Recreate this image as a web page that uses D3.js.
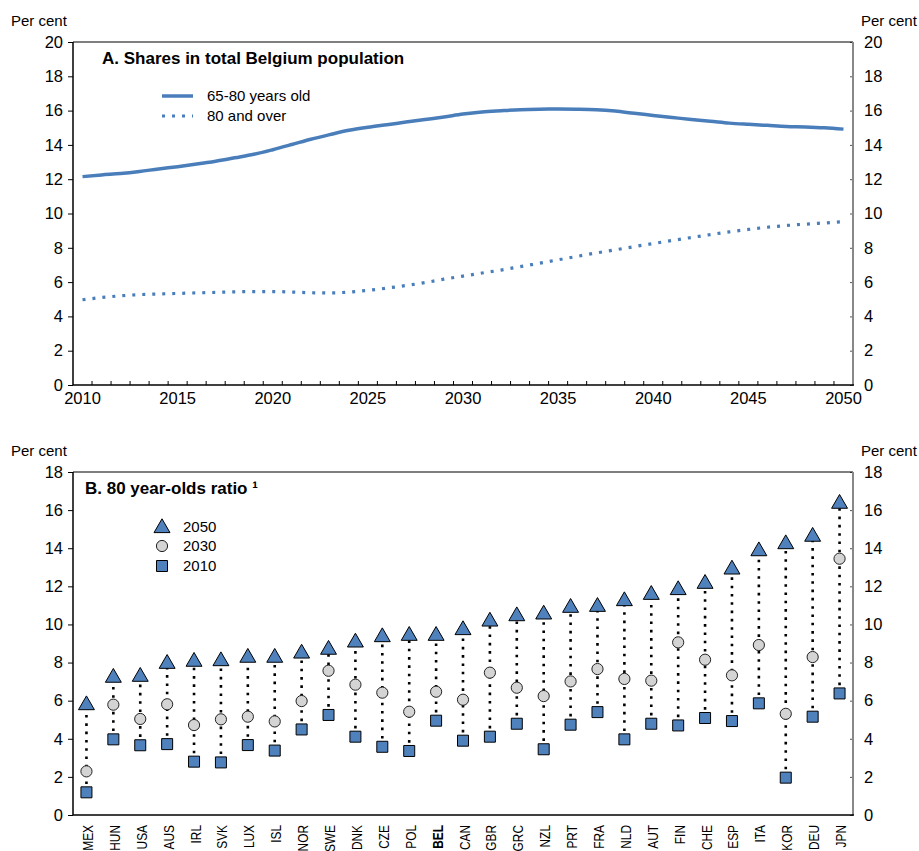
<!DOCTYPE html>
<html><head><meta charset="utf-8">
<script src="https://cdn.jsdelivr.net/npm/d3@7/dist/d3.min.js"></script>
<style>
body{margin:0;background:#fff;}
svg{font-family:"Liberation Sans",Arial,sans-serif;}
</style></head>
<body><svg id="c" width="919" height="851"></svg>
<script>
// ---------- DATA ----------
const years = d3.range(2010, 2051);
const share6580 = [12.15,12.25,12.33,12.45,12.6,12.73,12.88,13.05,13.25,13.45,13.72,14.02,14.33,14.6,14.85,15.03,15.18,15.33,15.48,15.63,15.8,15.92,15.99,16.05,16.08,16.09,16.08,16.05,15.97,15.84,15.72,15.6,15.48,15.38,15.27,15.2,15.14,15.08,15.05,15.0,14.92];
const share80 = [4.97,5.1,5.2,5.27,5.31,5.34,5.37,5.4,5.43,5.45,5.45,5.42,5.38,5.37,5.42,5.52,5.65,5.8,5.97,6.17,6.35,6.53,6.7,6.9,7.1,7.3,7.5,7.7,7.88,8.07,8.25,8.43,8.6,8.77,8.93,9.07,9.2,9.3,9.38,9.45,9.52];
const yearTickLabels = [2010,2015,2020,2025,2030,2035,2040,2045,2050];
const topYTicks = [0,2,4,6,8,10,12,14,16,18,20];

const countries = ["MEX","HUN","USA","AUS","IRL","SVK","LUX","ISL","NOR","SWE","DNK","CZE","POL","BEL","CAN","GBR","GRC","NZL","PRT","FRA","NLD","AUT","FIN","CHE","ESP","ITA","KOR","DEU","JPN"];
const v2010 = [1.19,3.97,3.66,3.72,2.8,2.76,3.67,3.38,4.49,5.25,4.11,3.58,3.36,4.95,3.9,4.11,4.79,3.45,4.74,5.4,3.97,4.79,4.7,5.09,4.93,5.86,1.96,5.16,6.38];
const v2030 = [2.29,5.79,5.04,5.81,4.72,5.02,5.16,4.91,5.98,7.57,6.84,6.42,5.42,6.47,6.05,7.47,6.68,6.24,7.01,7.66,7.14,7.05,9.06,8.15,7.33,8.92,5.31,8.29,13.45];
const v2050 = [5.82,7.26,7.31,7.99,8.1,8.13,8.31,8.31,8.53,8.73,9.11,9.39,9.46,9.46,9.76,10.21,10.49,10.58,10.93,10.98,11.28,11.61,11.86,12.19,12.94,13.9,14.27,14.66,16.39];
const botYTicks = [0,2,4,6,8,10,12,14,16,18];

// ---------- STYLE ----------
const blue = "#4a7ebb", mblue = "#4f81bd", grey = "#d4d4d4";
const L = 73, R = 853;
const svg = d3.select("#c");
const tickFont = "16.5px";

function frame(g, y, top, bottom){
  g.append("line").attr("x1",L).attr("x2",R).attr("y1",top).attr("y2",top).attr("stroke","#000").attr("stroke-width",1.2);
  g.append("line").attr("x1",L).attr("x2",L).attr("y1",top).attr("y2",bottom).attr("stroke","#000").attr("stroke-width",1.5);
  g.append("line").attr("x1",R).attr("x2",R).attr("y1",top).attr("y2",bottom).attr("stroke","#888").attr("stroke-width",2);
  g.append("line").attr("x1",L).attr("x2",R+1).attr("y1",bottom).attr("y2",bottom).attr("stroke","#000").attr("stroke-width",1.5);
}
function yAxes(g, y, ticks){
  const la = g.append("g").attr("transform",`translate(${L},0)`)
    .call(d3.axisLeft(y).tickValues(ticks).tickSize(5).tickPadding(5));
  const ra = g.append("g").attr("transform",`translate(${R},0)`)
    .call(d3.axisRight(y).tickValues(ticks).tickSize(-3).tickPadding(11));
  [la,ra].forEach(a=>{a.select(".domain").remove();
    a.selectAll("text").attr("font-size",tickFont).attr("fill","#000").attr("font-family","Liberation Sans, Arial, sans-serif");
    a.selectAll("line").attr("stroke","#000");});
  ra.selectAll("line").attr("stroke","#555");
}
function perCent(g, yb){
  g.append("text").attr("x",11).attr("y",yb).attr("font-size","15px").text("Per cent");
  g.append("text").attr("x",861).attr("y",yb).attr("font-size","15px").text("Per cent");
}

// ---------- PANEL A ----------
{
  const top = 42, bottom = 385;
  const g = svg.append("g");
  const x = d3.scaleBand().domain(years).range([L,R]);
  const y = d3.scaleLinear().domain([0,20]).range([bottom,top]);
  perCent(g, 26);
  yAxes(g, y, topYTicks);
  g.append("g").selectAll("line").data(years.slice(1)).join("line")
    .attr("x1",d=>x(d)).attr("x2",d=>x(d)).attr("y1",bottom).attr("y2",bottom-4).attr("stroke","#000");
  const xa = g.append("g").attr("transform",`translate(0,${bottom})`)
    .call(d3.axisBottom(x).tickValues(yearTickLabels).tickSize(0).tickPadding(7));
  xa.select(".domain").remove();
  xa.selectAll("text").attr("font-size",tickFont).attr("fill","#000").attr("font-family","Liberation Sans, Arial, sans-serif");
  frame(g, y, top, bottom);
  const cx = d => x(d) + x.bandwidth()/2;
  const line = d3.line().x((d,i)=>cx(years[i])).y(d=>y(d)).curve(d3.curveMonotoneX);
  g.append("path").attr("d",line(share6580)).attr("fill","none").attr("stroke",blue).attr("stroke-width",3.5);
  g.append("path").attr("d",line(share80)).attr("fill","none").attr("stroke",blue).attr("stroke-width",3.2).attr("stroke-dasharray","3,7");
  g.append("text").attr("x",102).attr("y",64).attr("font-size","17px").attr("font-weight","bold").text("A. Shares in total Belgium population");
  g.append("line").attr("x1",162).attr("x2",193).attr("y1",96).attr("y2",96).attr("stroke",blue).attr("stroke-width",3.5);
  g.append("line").attr("x1",162).attr("x2",193).attr("y1",116).attr("y2",116).attr("stroke",blue).attr("stroke-width",3.2).attr("stroke-dasharray","3,7");
  g.append("text").attr("x",207).attr("y",101).attr("font-size","15px").text("65-80 years old");
  g.append("text").attr("x",207).attr("y",121).attr("font-size","15px").text("80 and over");
}

// ---------- PANEL B ----------
{
  const top = 472, bottom = 815;
  const g = svg.append("g");
  const x = d3.scaleBand().domain(countries).range([L,R]);
  const y = d3.scaleLinear().domain([0,18]).range([bottom,top]);
  perCent(g, 456);
  yAxes(g, y, botYTicks);
  frame(g, y, top, bottom);
  const cx = d => x(d) + x.bandwidth()/2;
  const rows = countries.map((c,i)=>({c, a:v2010[i], b:v2030[i], d:v2050[i]}));
  g.append("g").selectAll("line").data(rows).join("line")
    .attr("x1",d=>cx(d.c)).attr("x2",d=>cx(d.c))
    .attr("y1",d=>y(Math.min(d.a,d.b,d.d))).attr("y2",d=>y(Math.max(d.a,d.b,d.d)))
    .attr("stroke","#000").attr("stroke-width",2.6).attr("stroke-dasharray","2.6,5.7");
  const tri = d3.symbol().type(d3.symbolTriangle).size(110);
  const sq = s => `M${-s/2},${-s/2}h${s}v${s}h${-s}Z`;
  function drawTri(sel){ sel.attr("d",tri()).attr("fill",mblue).attr("stroke","#000").attr("stroke-width",1); }
  function drawSq(sel){ sel.attr("d",sq(11)).attr("fill",mblue).attr("stroke","#000").attr("stroke-width",1); }
  function drawCirc(sel){ sel.attr("r",5.6).attr("fill",grey).attr("stroke","#222").attr("stroke-width",1); }
  g.append("g").selectAll("path").data(rows).join("path").attr("transform",d=>`translate(${cx(d.c)},${y(d.a)})`).call(drawSq);
  g.append("g").selectAll("circle").data(rows).join("circle").attr("cx",d=>cx(d.c)).attr("cy",d=>y(d.b)).call(drawCirc);
  g.append("g").selectAll("path").data(rows).join("path").attr("transform",d=>`translate(${cx(d.c)},${y(d.d)+1})`).call(drawTri);
  g.append("g").selectAll("text").data(countries).join("text")
    .attr("transform",d=>`translate(${cx(d)+6.5},${bottom+10}) rotate(-90) scale(0.82,1)`)
    .attr("text-anchor","end").attr("font-size","14.5px")
    .attr("font-weight",d=>d==="BEL"?"bold":"normal").text(d=>d);
  g.append("text").attr("x",85).attr("y",494).attr("font-size","17px").attr("font-weight","bold").text("B. 80 year-olds ratio \u00B9");
  g.append("path").attr("transform","translate(162,528)").call(drawTri);
  g.append("circle").attr("cx",162).attr("cy",546).call(drawCirc);
  g.append("path").attr("transform","translate(162,566)").call(drawSq);
  [["2050",532],["2030",551],["2010",571]].forEach(([t,yy])=>
    g.append("text").attr("x",183).attr("y",yy).attr("font-size","15px").text(t));
}
</script></body></html>
